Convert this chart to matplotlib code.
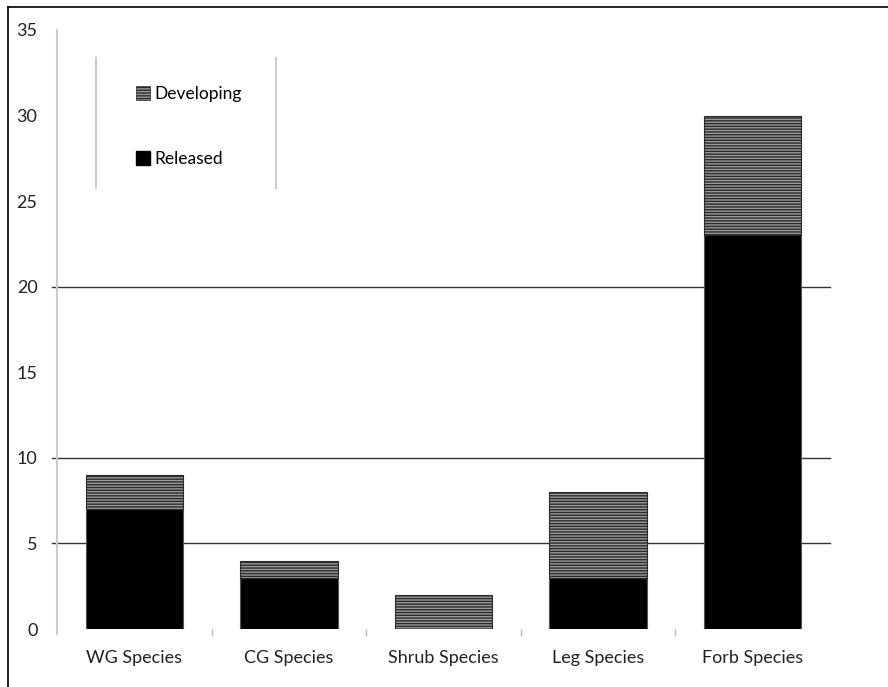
import matplotlib
matplotlib.use("Agg")
import matplotlib.pyplot as plt
from matplotlib.patches import Patch
from matplotlib.lines import Line2D
import numpy as np

categories = ["WG Species", "CG Species", "Shrub Species", "Leg Species", "Forb Species"]
released = [7, 3, 0, 3, 23]
developing = [2, 1, 2, 5, 7]
y_ticks = [0, 5, 10, 15, 20, 25, 30, 35]
grid_at = [5, 10, 20]

plt.rcParams["font.family"] = ["Lato", "DejaVu Sans"]
plt.rcParams["hatch.linewidth"] = 1.0

fig = plt.figure(figsize=(8.88, 6.87), dpi=100)
ax = fig.add_axes([57 / 888, 1 - 629 / 687, 773 / 888, 599 / 687])

x = np.arange(len(categories))
w = 0.63
ax.bar(x, released, width=w, color="black", edgecolor="#555555", linewidth=0.8, zorder=3)
ax.bar(x, developing, width=w, bottom=released, color="#9a9a9a", edgecolor="#2a2a2a",
       hatch="------", linewidth=0.8, zorder=3)

for g in grid_at:
    ax.axhline(g, xmin=-5 / 773, xmax=1, color="#333333", linewidth=1.0, zorder=1, clip_on=False)

ax.set_xlim(-0.5, len(categories) - 0.5)
ax.set_ylim(0, 35)
ax.set_yticks(y_ticks)
ax.set_yticklabels([str(v) for v in y_ticks], fontsize=13, color="#222222")
ax.tick_params(axis="y", length=0, pad=14)

ax.set_xticks(x)
ax.set_xticklabels(categories, fontsize=13, color="#222222")
ax.set_xticks(x[:-1] + 0.5, minor=True)
ax.tick_params(axis="x", which="major", length=0, pad=15)
ax.tick_params(axis="x", which="minor", length=5, color="#bbbbbb", width=1)

for s in ["top", "right", "bottom"]:
    ax.spines[s].set_visible(False)
ax.spines["left"].set_color("#cccccc")
ax.spines["left"].set_linewidth(1.5)
ax.spines["left"].set_bounds(-0.3, 35)

handles = [Patch(facecolor="#9a9a9a", edgecolor="#2a2a2a", hatch="------", linewidth=0.5),
           Patch(facecolor="black", edgecolor="black")]
fig.legend(handles, ["Developing", "Released"], loc="upper left",
           bbox_to_anchor=(120 / 888, 1 - 70 / 687), frameon=False, fontsize=12.5,
           handlelength=0.85, handleheight=0.85, handletextpad=0.25, labelspacing=2.85)

# legend frame side lines
for lx in [96, 276]:
    fig.add_artist(Line2D([lx / 888, lx / 888], [1 - 58 / 687, 1 - 188 / 687],
                          color="#cccccc", linewidth=1.5))

# outer border (left and top)
fig.add_artist(Line2D([8 / 888, 8 / 888], [0, 1 - 7 / 687], color="black", linewidth=1.2))
fig.add_artist(Line2D([8 / 888, 1], [1 - 7 / 687, 1 - 7 / 687], color="black", linewidth=1.2))

fig.savefig("out.png", dpi=100)
